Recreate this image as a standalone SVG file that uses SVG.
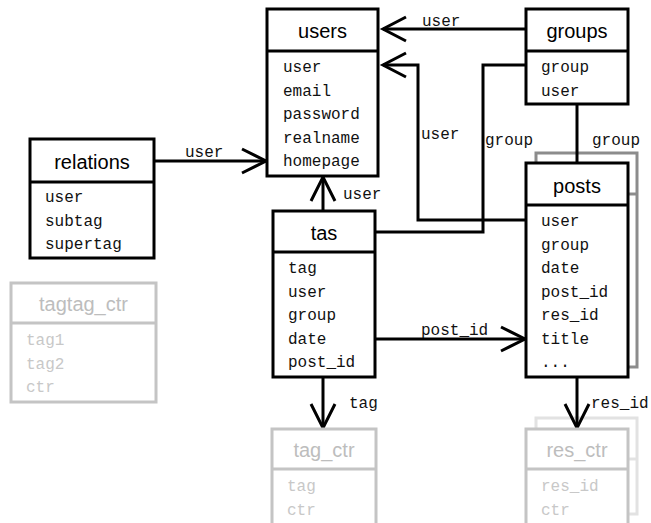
<svg xmlns="http://www.w3.org/2000/svg" width="651" height="523" viewBox="0 0 651 523">
<style>
.box{fill:#fff;stroke:#000;stroke-width:3}
.sep{stroke:#000;stroke-width:3}
.title{font-family:"Liberation Sans",Arial,sans-serif;font-size:20px;text-anchor:middle;fill:#000}
.fld{font-family:"Liberation Mono","Courier New",monospace;font-size:16px;fill:#111}
.lbl{font-family:"Liberation Mono","Courier New",monospace;font-size:16px;fill:#111}
.gbox{fill:#fff;stroke:#c4c4c4;stroke-width:3}
.gsep{stroke:#c4c4c4;stroke-width:3}
.gtitle{font-family:"Liberation Sans",Arial,sans-serif;font-size:20px;text-anchor:middle;fill:#bdbdbd}
.gfld{font-family:"Liberation Mono","Courier New",monospace;font-size:16px;fill:#c8c8c8}
.shadow{fill:#fff;stroke:#8c8c8c;stroke-width:3}
.lshadow{fill:#fff;stroke:#e2e2e2;stroke-width:3}
.con{fill:none;stroke:#000;stroke-width:3}
</style>
<rect width="651" height="523" fill="#fff"/>

<!-- shadows -->
<g id="posts-shadow">
<rect class="shadow" x="536" y="153" width="101" height="214"/>
<line x1="626" y1="194" x2="637" y2="194" stroke="#8c8c8c" stroke-width="3"/>
</g>
<g id="res_ctr-shadow">
<rect class="lshadow" x="536" y="418" width="101" height="96"/>
<line x1="626" y1="459" x2="637" y2="459" stroke="#e2e2e2" stroke-width="3"/>
</g>

<g id="connectors">
<!-- groups -> users -->
<line class="con" x1="526" y1="29" x2="383" y2="29"/>
<polyline class="con" points="406,17 383,29 406,41"/>
<text class="lbl" x="422" y="26">user</text>
<!-- posts.user -> users -->
<polyline class="con" points="526,220 418,220 418,65 383,65"/>
<polyline class="con" points="406,53 383,65 406,77"/>
<text class="lbl" x="421" y="139">user</text>
<!-- tas.group -> groups -->
<polyline class="con" points="526,65 483,65 483,232 375,232"/>
<text class="lbl" x="485" y="145">group</text>
<!-- groups -> posts -->
<line class="con" x1="577" y1="104" x2="577" y2="163"/>
<text class="lbl" x="592" y="145">group</text>
<!-- relations -> users -->
<line class="con" x1="154" y1="161" x2="266" y2="161"/>
<polyline class="con" points="242,149 266,161 242,173"/>
<text class="lbl" x="185" y="157">user</text>
<!-- tas -> users -->
<line class="con" x1="323" y1="211" x2="323" y2="177"/>
<polyline class="con" points="311,201 323,177 335,201"/>
<text class="lbl" x="343" y="199">user</text>
<!-- tas -> posts -->
<line class="con" x1="375" y1="339" x2="525" y2="339"/>
<polyline class="con" points="501,327 525,339 501,351"/>
<text class="lbl" x="421" y="335">post_id</text>
<!-- tas -> tag_ctr -->
<line class="con" x1="323" y1="377" x2="323" y2="428"/>
<polyline class="con" points="311,404 323,428 335,404"/>
<text class="lbl" x="349" y="408">tag</text>
<!-- posts -> res_ctr -->
<line class="con" x1="577" y1="377" x2="577" y2="428"/>
<polyline class="con" points="565,404 577,428 589,404"/>
<text class="lbl" x="591" y="408">res_id</text>
</g>

<g id="users">
<rect class="box" x="267" y="9" width="111" height="167"/>
<line class="sep" x1="267" y1="51" x2="378" y2="51"/>
<text class="title" x="322.5" y="38">users</text>
<text class="fld" x="283" y="72">user</text>
<text class="fld" x="283" y="95.5">email</text>
<text class="fld" x="283" y="119">password</text>
<text class="fld" x="283" y="142.5">realname</text>
<text class="fld" x="283" y="166">homepage</text>
</g>

<g id="groups">
<rect class="box" x="526" y="9" width="102" height="95"/>
<line class="sep" x1="526" y1="51" x2="628" y2="51"/>
<text class="title" x="577" y="38">groups</text>
<text class="fld" x="541" y="72">group</text>
<text class="fld" x="541" y="95.5">user</text>
</g>

<g id="posts">
<rect class="box" x="526" y="163" width="102" height="214"/>
<line class="sep" x1="526" y1="205" x2="628" y2="205"/>
<text class="title" x="577" y="193">posts</text>
<text class="fld" x="541" y="226">user</text>
<text class="fld" x="541" y="249.5">group</text>
<text class="fld" x="541" y="273">date</text>
<text class="fld" x="541" y="296.5">post_id</text>
<text class="fld" x="541" y="320">res_id</text>
<text class="fld" x="541" y="343.5">title</text>
<text class="fld" x="541" y="367">...</text>
</g>

<g id="tas">
<rect class="box" x="273" y="211" width="102" height="166"/>
<line class="sep" x1="273" y1="252" x2="375" y2="252"/>
<text class="title" x="324" y="240">tas</text>
<text class="fld" x="288" y="273">tag</text>
<text class="fld" x="288" y="296.5">user</text>
<text class="fld" x="288" y="320">group</text>
<text class="fld" x="288" y="343.5">date</text>
<text class="fld" x="288" y="367">post_id</text>
</g>

<g id="relations">
<rect class="box" x="30" y="139" width="124" height="119"/>
<line class="sep" x1="30" y1="182" x2="154" y2="182"/>
<text class="title" x="92" y="169">relations</text>
<text class="fld" x="45" y="202">user</text>
<text class="fld" x="45" y="225.5">subtag</text>
<text class="fld" x="45" y="249">supertag</text>
</g>

<g id="tagtag_ctr">
<rect class="gbox" x="11" y="283" width="145" height="119"/>
<line class="gsep" x1="11" y1="323" x2="156" y2="323"/>
<text class="gtitle" x="83.5" y="311">tagtag_ctr</text>
<text class="gfld" x="26" y="345">tag1</text>
<text class="gfld" x="26" y="368.5">tag2</text>
<text class="gfld" x="26" y="392">ctr</text>
</g>

<g id="tag_ctr">
<rect class="gbox" x="272" y="429" width="104" height="110"/>
<line class="gsep" x1="272" y1="469" x2="376" y2="469"/>
<text class="gtitle" x="324" y="457">tag_ctr</text>
<text class="gfld" x="287" y="491">tag</text>
<text class="gfld" x="287" y="515">ctr</text>
</g>

<g id="res_ctr">
<rect class="gbox" x="526" y="429" width="102" height="110"/>
<line class="gsep" x1="526" y1="469" x2="628" y2="469"/>
<text class="gtitle" x="577" y="457">res_ctr</text>
<text class="gfld" x="541" y="491">res_id</text>
<text class="gfld" x="541" y="515">ctr</text>
</g>
</svg>
